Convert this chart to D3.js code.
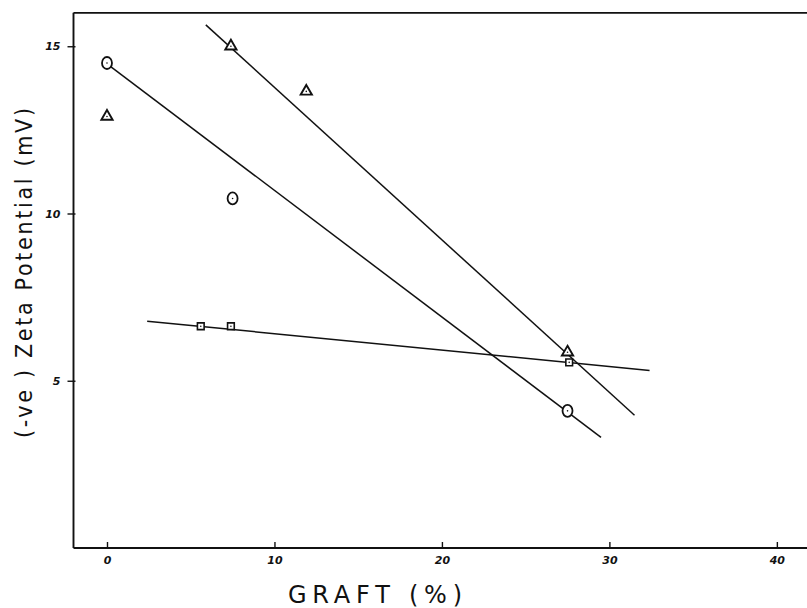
<!DOCTYPE html>
<html>
<head>
<meta charset="utf-8">
<script src="https://cdn.jsdelivr.net/npm/d3@7"></script>
<style>
  body { margin: 0; background: #fff; }
  svg { display: block; }
</style>
</head>
<body>
<div id="chart"></div>
<script>
const circleX = [0, 7.5, 27.5];
const circleY = [14.5, 10.45, 4.1];
const triangleX = [0, 7.4, 11.9, 27.5];
const triangleY = [12.9, 15.0, 13.65, 5.85];
const squareX = [5.6, 7.4, 27.6];
const squareY = [6.63, 6.63, 5.55];

// drawn fit lines: [x0, y0, x1, y1]
const circleFit = [0.2, 14.4, 29.5, 3.31];
const triangleFit = [5.9, 15.64, 31.5, 3.97];
const squareFit = [2.4, 6.78, 32.4, 5.31];

const xTicks = [0, 10, 20, 30, 40];
const yTicks = [5, 10, 15];

const width = 807, height = 608;

const svg = d3.select('#chart').append('svg')
  .attr('width', width).attr('height', height);

const x = d3.scaleLinear().domain([-2, 41.8]).range([73.5, 807]);
const y = d3.scaleLinear().domain([0, 16]).range([548, 12.8]);

const ink = '#111';

// top frame line
svg.append('line')
  .attr('x1', x(-2)).attr('x2', width)
  .attr('y1', y(16)).attr('y2', y(16))
  .attr('stroke', ink).attr('stroke-width', 1.8);

// axes
const xAxis = svg.append('g')
  .attr('transform', `translate(0,${y(0)})`)
  .call(d3.axisBottom(x).tickValues(xTicks).tickSize(-6).tickPadding(8).tickSizeOuter(0));

const yAxis = svg.append('g')
  .attr('transform', `translate(${x(-2)},0)`)
  .call(d3.axisLeft(y).tickValues(yTicks).tickSize(6).tickPadding(7).tickSizeOuter(0));

for (const ax of [xAxis, yAxis]) {
  ax.select('.domain').attr('stroke', ink).attr('stroke-width', 1.9);
  ax.selectAll('.tick line').attr('stroke', ink).attr('stroke-width', 1.4);
  ax.selectAll('.tick text')
    .attr('fill', ink)
    .attr('font-family', 'DejaVu Sans')
    .attr('font-size', 11)
    .attr('font-weight', 'bold')
    .attr('font-style', 'italic');
}
xAxis.select('.domain').attr('d', `M${x(-2)},0H${width}`);
yAxis.select('.domain').attr('d', `M0,${y(0)}V${y(16)}`);
yAxis.selectAll('.tick line').attr('x1', 2);

// axis titles
svg.append('text')
  .attr('transform', `translate(32,273) rotate(-90)`)
  .attr('text-anchor', 'middle')
  .attr('font-family', 'DejaVu Sans Condensed, DejaVu Sans')
  .attr('font-size', 23)
  .attr('fill', ink)
  .attr('textLength', 330)
  .attr('lengthAdjust', 'spacing')
  .text('(-ve ) Zeta Potential (mV)');

svg.append('text')
  .attr('x', 375).attr('y', 603)
  .attr('text-anchor', 'middle')
  .attr('font-family', 'DejaVu Sans')
  .attr('font-size', 24)
  .attr('fill', ink)
  .attr('textLength', 174)
  .attr('lengthAdjust', 'spacing')
  .text('GRAFT (%)');

// fit lines
const plot = svg.append('g');
for (const f of [circleFit, triangleFit, squareFit]) {
  plot.append('line')
    .attr('x1', x(f[0])).attr('y1', y(f[1]))
    .attr('x2', x(f[2])).attr('y2', y(f[3]))
    .attr('stroke', ink).attr('stroke-width', 1.5);
}

// markers
const circles = d3.zip(circleX, circleY);
const triangles = d3.zip(triangleX, triangleY);
const squares = d3.zip(squareX, squareY);

plot.selectAll('ellipse.pt').data(circles).join('ellipse')
  .attr('class', 'pt')
  .attr('cx', d => x(d[0])).attr('cy', d => y(d[1]))
  .attr('rx', 5).attr('ry', 6)
  .attr('fill', '#fff').attr('stroke', ink).attr('stroke-width', 1.8);

plot.selectAll('path.tri').data(triangles).join('path')
  .attr('class', 'tri')
  .attr('transform', d => `translate(${x(d[0])},${y(d[1])})`)
  .attr('d', d3.symbol(d3.symbolTriangle, 55))
  .attr('fill', '#fff').attr('stroke', ink).attr('stroke-width', 1.9);

plot.selectAll('path.sq').data(squares).join('path')
  .attr('class', 'sq')
  .attr('transform', d => `translate(${x(d[0])},${y(d[1])})`)
  .attr('d', d3.symbol(d3.symbolSquare, 45))
  .attr('fill', '#fff').attr('stroke', ink).attr('stroke-width', 1.6);

// small centre dots as in the plotted original
plot.selectAll('circle.dot').data([...circles, ...triangles, ...squares]).join('circle')
  .attr('class', 'dot')
  .attr('cx', d => x(d[0])).attr('cy', d => y(d[1]))
  .attr('r', 0.8).attr('fill', ink);
</script>
</body>
</html>
